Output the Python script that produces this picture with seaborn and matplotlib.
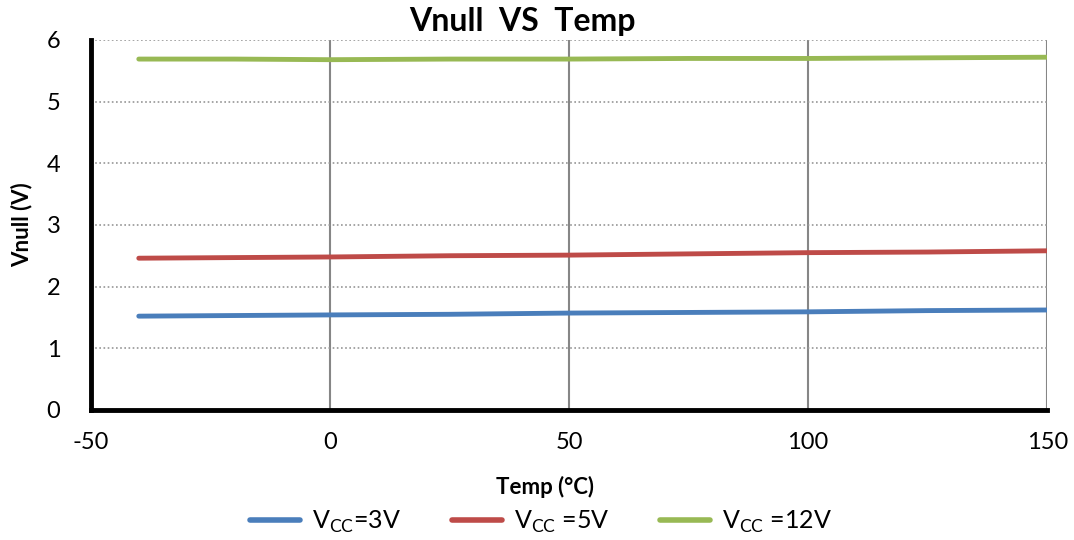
import pandas as pd
import matplotlib
matplotlib.use("Agg")
import matplotlib.pyplot as plt
import seaborn as sns

# --- DATA ---
temp = [-40, -20, 0, 25, 50, 75, 100, 125, 150]
vnull_3v = [1.52, 1.53, 1.54, 1.55, 1.57, 1.58, 1.59, 1.61, 1.62]
vnull_5v = [2.46, 2.47, 2.48, 2.50, 2.51, 2.53, 2.55, 2.56, 2.58]
vnull_12v = [5.69, 5.69, 5.68, 5.69, 5.69, 5.70, 5.70, 5.71, 5.72]
series_labels = ["V$_{\\mathrm{CC}}$=3V", "V$_{\\mathrm{CC}}$ =5V", "V$_{\\mathrm{CC}}$ =12V"]
series_colors = ["#4a7ebb", "#be4b48", "#98b954"]

df = pd.DataFrame({
    "temp": temp * 3,
    "vnull": vnull_3v + vnull_5v + vnull_12v,
    "series": [series_labels[0]] * len(temp) + [series_labels[1]] * len(temp) + [series_labels[2]] * len(temp),
})

sns.set_style("white")
plt.rcParams["font.family"] = ["Lato", "DejaVu Sans"]
plt.rcParams["mathtext.fontset"] = "custom"
plt.rcParams["mathtext.rm"] = "Lato"
plt.rcParams["axes.unicode_minus"] = False
plt.rcParams["text.color"] = "black"
plt.rcParams["xtick.color"] = "black"
plt.rcParams["ytick.color"] = "black"

fig = plt.figure(figsize=(10.74, 5.4), dpi=100)
ax = fig.add_axes([0.0847, 0.241, 0.8903, 0.685])

sns.lineplot(data=df, x="temp", y="vnull", hue="series", palette=series_colors,
             linewidth=3.5, ax=ax, legend=True, solid_capstyle="round")

ax.set_xlim(-50, 150)
ax.set_ylim(0, 6)
ax.set_xticks([-50, 0, 50, 100, 150])
ax.set_yticks(range(0, 7))

# grid: solid vertical, dotted horizontal
for xv in [0, 50, 100, 150]:
    ax.axvline(xv, color="#868686", linewidth=1.5, zorder=0)
for yv in range(1, 7):
    ax.axhline(yv, color="#969696", linewidth=1.2, linestyle=(0, (1, 1.5)), zorder=0)

for side in ["top", "right"]:
    ax.spines[side].set_visible(False)
ax.spines["left"].set_linewidth(3.5)
ax.spines["bottom"].set_linewidth(3.5)
ax.spines["left"].set_color("black")
ax.spines["bottom"].set_color("black")

ax.tick_params(axis="both", labelsize=17, length=0)
ax.tick_params(axis="y", pad=22)
ax.tick_params(axis="x", pad=16)

ax.set_xlabel("")
ax.set_ylabel("")
fig.text(0.507, 1 - 487 / 540, "Temp (°C)", fontsize=16, fontweight="bold", ha="center", va="center")
fig.text(22 / 1074, 1 - 225 / 540, "Vnull (V)", fontsize=16, fontweight="bold", rotation=90,
         ha="center", va="center")
fig.text(522 / 1074, 1 - 22 / 540, "Vnull  VS  Temp", fontsize=23, fontweight="bold", ha="center", va="center")

ax.legend(loc="center", bbox_to_anchor=(541 / 1074, 1 - 522 / 540), bbox_transform=fig.transFigure,
          ncol=3, frameon=False, fontsize=18, handlelength=2.0, handletextpad=0.5,
          columnspacing=2.0, borderpad=0)
for line in ax.get_legend().get_lines():
    line.set_linewidth(4)

plt.savefig("out.png", dpi=100)
plt.close()
